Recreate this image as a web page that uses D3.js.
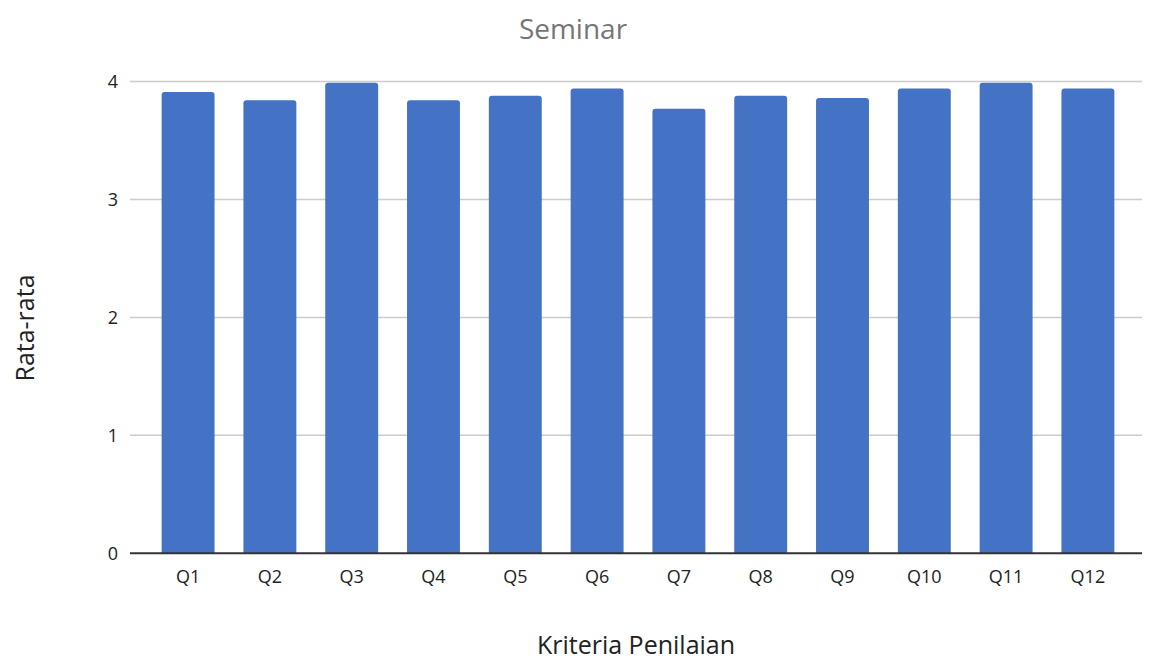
<!DOCTYPE html>
<html><head><meta charset="utf-8">
<script src="https://cdn.jsdelivr.net/npm/d3@7"></script>
<style>body{margin:0;background:#fff;}svg{display:block;font-family:"Open Sans","Noto Sans",sans-serif;}</style>
</head><body>
<svg id="c" width="1160" height="660"></svg>
<script>
const categories = ["Q1","Q2","Q3","Q4","Q5","Q6","Q7","Q8","Q9","Q10","Q11","Q12"];
const values = [3.91,3.84,3.99,3.84,3.88,3.94,3.77,3.88,3.86,3.94,3.99,3.94];
const yTicks = [0,1,2,3,4];
const title = "Seminar";
const xTitle = "Kriteria Penilaian";
const yTitle = "Rata-rata";

const svg = d3.select("#c");
const L = 130, R = 1142, T = 81.5, B = 553.3;
const x = d3.scaleBand().domain(categories).range([L+3, R+1]).paddingInner(0.353).paddingOuter(0.35);
const y = d3.scaleLinear().domain([0,4]).range([B, T]);

svg.append("text").attr("x",573).attr("y",39).attr("text-anchor","middle")
  .attr("font-size",28).attr("fill","#757575").text(title);

const g = svg.append("g");
g.selectAll("line.grid").data(yTicks.filter(d=>d>0)).join("line")
  .attr("x1",L).attr("x2",R).attr("y1",d=>y(d)).attr("y2",d=>y(d))
  .attr("stroke","#cccccc").attr("stroke-width",1.5);

g.selectAll("text.yt").data(yTicks).join("text")
  .attr("x",L-12).attr("y",d=>y(d)).attr("dy","0.35em").attr("text-anchor","end")
  .attr("font-size",18).attr("fill","#222").text(d=>d);

const r = 3;
g.selectAll("path.bar").data(categories).join("path")
  .attr("fill","#4472C4")
  .attr("d",(c,i)=>{
    const x0 = x(c), w = x.bandwidth(), y0 = y(values[i]), yb = y(0);
    return `M${x0},${yb}V${y0+r}Q${x0},${y0} ${x0+r},${y0}H${x0+w-r}Q${x0+w},${y0} ${x0+w},${y0+r}V${yb}Z`;
  });

g.append("line").attr("x1",L).attr("x2",R).attr("y1",B).attr("y2",B)
  .attr("stroke","#333").attr("stroke-width",2);

g.selectAll("text.xt").data(categories).join("text")
  .attr("x",c=>x(c)+x.bandwidth()/2).attr("y",B+30).attr("text-anchor","middle")
  .attr("font-size",18).attr("fill","#222").text(c=>c);

svg.append("text").attr("x",636).attr("y",654).attr("text-anchor","middle")
  .attr("font-size",25).attr("fill","#222").text(xTitle);

svg.append("text").attr("transform","translate(34,328) rotate(-90)").attr("text-anchor","middle")
  .attr("font-size",25).attr("fill","#222").text(yTitle);
</script>
</body></html>
